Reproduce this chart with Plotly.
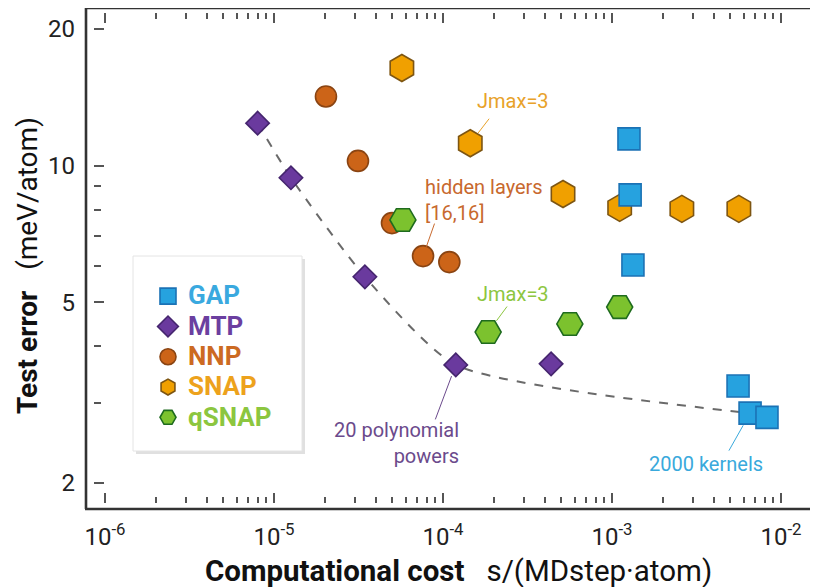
import math
import plotly.graph_objects as go

# ---------------- data ----------------
gap_x = [1.26e-3, 1.28e-3, 1.33e-3, 5.57e-3, 6.56e-3, 8.26e-3]
gap_y = [11.45, 8.62, 6.04, 3.27, 2.85, 2.79]

mtp_x = [8.0e-6, 1.26e-5, 3.45e-5, 1.19e-4, 4.36e-4]
mtp_y = [12.4, 9.4, 5.69, 3.64, 3.66]

nnp_x = [2.03e-5, 3.14e-5, 4.99e-5, 7.62e-5, 1.09e-4]
nnp_y = [14.2, 10.24, 7.47, 6.32, 6.13]

snap_x = [5.71e-5, 1.45e-4, 5.13e-4, 1.11e-3, 2.59e-3, 5.63e-3]
snap_y = [16.4, 11.2, 8.66, 8.07, 8.03, 8.03]

qsnap_x = [5.79e-5, 1.85e-4, 5.63e-4, 1.11e-3]
qsnap_y = [7.59, 4.30, 4.48, 4.88]

# Pareto front (dashed): MTP points 1-4 and the "2000 kernels" GAP point
front_x = mtp_x[:4] + [gap_x[4]]
front_y = mtp_y[:4] + [gap_y[4]]

x_tickvals = [1e-6, 1e-5, 1e-4, 1e-3, 1e-2]
x_ticktext = ["10<sup>-6</sup>", "10<sup>-5</sup>", "10<sup>-4</sup>",
              "10<sup>-3</sup>", "10<sup>-2</sup>"]
x_minor = [k * 10.0 ** d for d in range(-6, -2) for k in range(2, 10)]
y_tickvals = [2, 5, 10, 20]
y_ticktext = ["2", "5", "10", "20"]
y_minor = [3, 4, 6, 7, 8, 9]

# ---------------- layout geometry ----------------
FONT = "Roboto"
OFF = 8                       # page body margin
W, H = 818 - OFF, 587 - OFF
PL, PR, PT, PB = 94, 816, 13, 503   # plot area in window pixels
ML, MT = PL - OFF, PT - OFF
PW, PH = PR - PL, PB - PT
MR, MB = W - ML - PW, H - MT - PH


def px_x(p):
    return (p - PL) / PW


def px_y(p):
    return (PB - p) / PH


series = [
    # name, x, y, symbol, size, fill, edge, legend colour, rank
    ("NNP", nnp_x, nnp_y, "circle", 21, "#cc6418", "#8a4412", "#cc6a22", 3),
    ("SNAP", snap_x, snap_y, "hexagon", 27, "#f0a000", "#7d5512", "#eda21c", 4),
    ("qSNAP", qsnap_x, qsnap_y, "hexagon2", 26, "#7cc22e", "#1e6b1e", "#8cc63f", 5),
    ("GAP", gap_x, gap_y, "square", 22, "#26a2df", "#1b72b5", "#3aa9df", 1),
    ("MTP", mtp_x, mtp_y, "diamond", 18, "#6a3a9e", "#45256e", "#6b3fa0", 2),
]

fig = go.Figure()

fig.add_trace(go.Scatter(
    x=front_x, y=front_y, mode="lines", showlegend=False, hoverinfo="skip",
    line=dict(color="#6a6a6a", width=2, dash="dash", shape="spline", smoothing=0.6),
))

for name, xs, ys, sym, size, fill, edge, lcol, rank in series:
    fig.add_trace(go.Scatter(
        x=xs, y=ys, mode="markers",
        name=f'<span style="color:{lcol};font-size:26px">{name}</span>',
        legendrank=rank,
        marker=dict(symbol=sym, size=size, color=fill,
                    line=dict(color=edge, width=1.6)),
    ))

TICK = dict(ticks="inside", tickwidth=1.5, tickcolor="#555")
axis_common = dict(
    type="log", showgrid=False, zeroline=False, showline=False,
    ticklen=10, **TICK,
    tickfont=dict(family=FONT, size=24, color="#222"),
)
y_range = [0.257, 1.336]
y_minor_cfg = dict(tickmode="array", tickvals=y_minor, ticklen=7,
                   showgrid=False, **TICK)

fig.update_layout(
    xaxis=dict(
        **axis_common, mirror="ticks",
        range=[-6.065, -1.793],
        tickmode="array", tickvals=x_tickvals, ticktext=x_ticktext,
        ticklabelstandoff=17,
        minor=dict(tickmode="array", tickvals=x_minor, ticklen=6,
                   showgrid=False, **TICK),
    ),
    yaxis=dict(
        **axis_common,
        range=y_range,
        tickmode="array", tickvals=y_tickvals, ticktext=y_ticktext,
        ticklabelstandoff=18,
        minor=y_minor_cfg,
    ),
    # right-hand tick marks (same scale as the left axis, no labels)
    yaxis2=dict(
        **axis_common, overlaying="y", side="right", matches="y",
        range=y_range, tickmode="array", tickvals=y_tickvals,
        showticklabels=False, minor=y_minor_cfg,
    ),
)

# frame (left, top, bottom; right side lies beyond the picture) and legend box
FRAME = dict(color="#333", width=2.6)
shapes = [
    dict(type="line", xref="paper", yref="paper", layer="above",
         x0=px_x(86), x1=px_x(86), y0=px_y(509), y1=px_y(8), line=FRAME),
    dict(type="line", xref="paper", yref="paper", layer="above",
         x0=px_x(85), x1=px_x(830), y0=px_y(8), y1=px_y(8), line=FRAME),
    dict(type="line", xref="paper", yref="paper", layer="above",
         x0=px_x(85), x1=px_x(830), y0=px_y(509), y1=px_y(509), line=FRAME),
    dict(type="rect", xref="paper", yref="paper",
         x0=px_x(136), x1=px_x(305), y0=px_y(454), y1=px_y(259),
         line=dict(width=0), fillcolor="rgba(0,0,0,0.12)", layer="below"),
    dict(type="rect", xref="paper", yref="paper",
         x0=px_x(133), x1=px_x(302), y0=px_y(451), y1=px_y(256),
         line=dict(color="#e4e4e4", width=1), fillcolor="white", layer="below"),
]

annotations = []


def lx(v):
    return math.log10(v)


def leader(xv, yv, ax, ay, color, standoff):
    annotations.append(dict(
        x=lx(xv), y=lx(yv), xref="x", yref="y", text="",
        showarrow=True, arrowhead=0, arrowwidth=1, arrowcolor=color,
        ax=ax, ay=ay, standoff=standoff,
    ))


def label(xv, yv, ax, ay, text, color, align="center"):
    annotations.append(dict(
        x=lx(xv), y=lx(yv), xref="x", yref="y", text=text, align=align,
        showarrow=True, arrowcolor="rgba(0,0,0,0)", arrowwidth=0.1,
        ax=ax, ay=ay, font=dict(family=FONT, size=20, color=color),
    ))


# Jmax=3 (SNAP)
leader(snap_x[1], snap_y[1], 20, -26, "#e8a22a", 13)
label(snap_x[1], snap_y[1], 43, -42, "Jmax=3", "#e8a22a")
# hidden layers (NNP)
leader(nnp_x[3], nnp_y[3], 12, -34, "#c8692e", 10)
label(nnp_x[3], nnp_y[3], 61, -56, "hidden layers<br>[16,16]", "#c8692e", "left")
# Jmax=3 (qSNAP)
leader(qsnap_x[1], qsnap_y[1], 20, -27, "#8dc63f", 14)
label(qsnap_x[1], qsnap_y[1], 25, -38, "Jmax=3", "#8dc63f")
# 20 polynomial powers (MTP)
leader(mtp_x[3], mtp_y[3], -21, 56, "#6b4a8c", 12)
label(mtp_x[3], mtp_y[3], -59, 78, "20 polynomial<br>powers", "#6b4a8c", "right")
# 2000 kernels (GAP)
leader(gap_x[4], gap_y[4], -22, 39, "#39a9dc", 14)
label(gap_x[4], gap_y[4], -44, 51, "2000 kernels", "#39a9dc")

NB = "\u00a0"
annotations.append(dict(
    xref="paper", yref="paper", x=px_x(459), y=px_y(571),
    text=f"<b>Computational cost</b>{NB*3}s/(MDstep·atom)",
    showarrow=False, font=dict(family=FONT, size=29.5, color="#111"),
    xanchor="center", yanchor="middle",
))
annotations.append(dict(
    xref="paper", yref="paper", x=px_x(27), y=px_y(266),
    text=f"<b>Test error</b>{NB*3}(meV/atom)", textangle=-90,
    showarrow=False, font=dict(family=FONT, size=28, color="#111"),
    xanchor="center", yanchor="middle",
))

fig.update_layout(
    width=W, height=H,
    margin=dict(l=ML, r=MR, t=MT, b=MB, autoexpand=False),
    paper_bgcolor="white", plot_bgcolor="white",
    shapes=shapes, annotations=annotations,
    showlegend=True,
    legend=dict(
        x=px_x(148), y=px_y(276), xanchor="left", yanchor="top",
        bgcolor="rgba(0,0,0,0)", borderwidth=0,
        font=dict(family=FONT, size=21, color="#333", weight="bold"),
        itemsizing="trace", tracegroupgap=0,
    ),
    font=dict(family=FONT),
)

fig.write_html("out.html")
